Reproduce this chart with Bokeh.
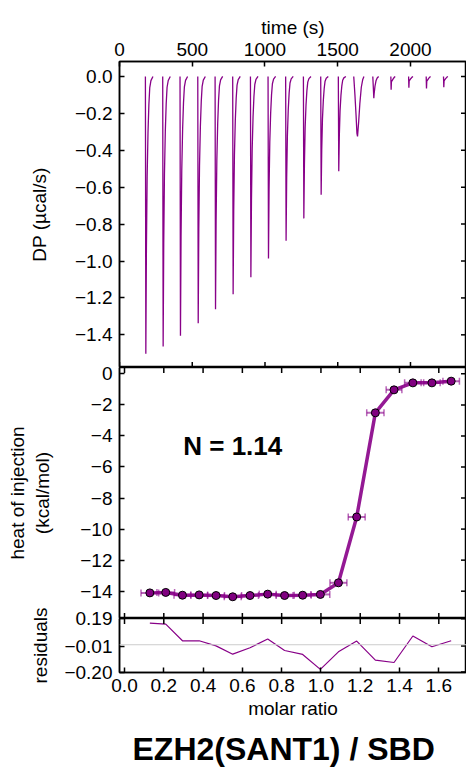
import math
from bokeh.plotting import figure
from bokeh.layouts import column
from bokeh.models import (LinearAxis, FixedTicker, Range1d, ColumnDataSource,
                          Whisker, TeeHead, Span, Label, Title)
from bokeh.embed import file_html
from bokeh.resources import INLINE

FONT = "Liberation Sans"
PURPLE = "#880088"
FS = "19px"

# ---------------- data ----------------
time_ticks = [0, 500, 1000, 1500, 2000]
dp_ticks = [0.0, -0.2, -0.4, -0.6, -0.8, -1.0, -1.2, -1.4]
dp_tick_labels = ["0.0", "\u22120.2", "\u22120.4", "\u22120.6", "\u22120.8",
                  "\u22121.0", "\u22121.2", "\u22121.4"]

# injection start times (s), peak depths (ucal/s), peak shape kind
inj_start = [178, 297, 416, 538, 657, 778, 900, 1021, 1142, 1264, 1383, 1504,
             1610, 1741, 1865, 1987, 2108, 2227]
peak_depth = [-1.503, -1.463, -1.405, -1.337, -1.261, -1.180, -1.088, -0.986,
              -0.890, -0.769, -0.641, -0.514, -0.325, -0.118, -0.072, -0.061,
              -0.065, -0.058]
peak_kind = ["s"] * 12 + ["V", "v", "r", "r", "r", "r"]

# peak shapes: time offsets (s) and fraction of depth
shape_dt = {
    "s": [0, 3, 7, 12, 18, 24, 30, 38, 52],
    "V": [0, 8, 16, 22, 26, 34, 42, 52, 62, 70],
    "v": [0, 7, 9, 15, 22, 30, 40],
    "r": [0, 2, 4, 8, 16, 24, 30],
}
shape_frac = {
    "s": [0, 1.0, 0.62, 0.36, 0.2, 0.1, 0.04, 0.015, 0],
    "V": [0, 0.3, 0.65, 0.95, 1.0, 0.75, 0.45, 0.18, 0.05, 0],
    "v": [0, 1.0, 0.8, 0.45, 0.2, 0.07, 0],
    "r": [0, 1.0, 0.4, 0.33, 0.18, 0.06, 0],
}

molar = [0.129, 0.210, 0.295, 0.380, 0.466, 0.551, 0.639, 0.729, 0.815,
         0.907, 0.997, 1.089, 1.182, 1.277, 1.372, 1.468, 1.565, 1.663]
heat = [-14.11, -14.08, -14.26, -14.24, -14.28, -14.36, -14.28, -14.19, -14.28,
        -14.26, -14.21, -13.46, -9.22, -2.51, -1.03, -0.58, -0.58, -0.47]
heat_xerr = [0.045, 0.045, 0.043, 0.043, 0.043, 0.043, 0.043, 0.043, 0.043,
             0.043, 0.048, 0.043, 0.043, 0.044, 0.040, 0.042, 0.042, 0.042]
resid = [0.158, 0.151, 0.029, 0.029, -0.008, -0.069, -0.022, 0.042, -0.042,
         -0.071, -0.180, -0.052, 0.027, -0.113, -0.130, 0.064, -0.015, 0.029]

molar_ticks = [0.0, 0.2, 0.4, 0.6, 0.8, 1.0, 1.2, 1.4, 1.6]
molar_tick_labels = ["0.0", "0.2", "0.4", "0.6", "0.8", "1.0", "1.2", "1.4", "1.6"]
heat_ticks = [0, -2, -4, -6, -8, -10, -12, -14]
heat_tick_labels = ["0", "\u22122", "\u22124", "\u22126", "\u22128",
                    "\u221210", "\u221212", "\u221214"]
resid_ticks = [0.19, -0.01, -0.20]
resid_tick_labels = ["0.19", "\u22120.01", "\u22120.20"]


def style_axis(ax, ticks, labels):
    ax.ticker = FixedTicker(ticks=ticks)
    ax.minor_tick_line_color = None
    ax.major_tick_in = 5
    ax.major_tick_out = 0
    ax.major_tick_line_width = 1.5
    ax.major_tick_line_color = "black"
    ax.axis_line_color = "black"
    ax.axis_line_width = 1.5
    ax.major_label_text_font = FONT
    ax.major_label_text_font_size = FS
    ax.major_label_text_color = "black"
    ax.axis_label_text_font = FONT
    ax.axis_label_text_font_style = "normal"
    ax.axis_label_text_font_size = FS
    ax.axis_label_text_color = "black"
    ax.major_label_overrides = {t: l for t, l in zip(ticks, labels)}


def inner_ticks(p, ticks, edge_value, vertical):
    """Unlabelled inward ticks on a frame edge (half of each dash is clipped)."""
    if vertical:
        p.scatter(ticks, [edge_value] * len(ticks), marker="dash", size=11,
                  angle=math.pi / 2, line_color="black", line_width=1.5)
    else:
        p.scatter([edge_value] * len(ticks), ticks, marker="dash", size=11,
                  line_color="black", line_width=1.5)


def base_fig(**kw):
    p = figure(output_backend="svg", toolbar_location=None,
               x_axis_location=None, y_axis_location=None,
               min_border_left=119, min_border_right=0, **kw)
    p.grid.visible = False
    p.outline_line_color = "black"
    p.outline_line_width = 1.5
    p.background_fill_color = "white"
    return p


# ---------------- top panel: thermogram ----------------
t_rng = Range1d(0, 2385)
dp_rng = Range1d(-1.577, 0.081)
p1 = base_fig(width=466, height=367, x_range=t_rng, y_range=dp_rng,
              min_border_top=61, min_border_bottom=0)
p1.border_fill_color = "white"
xs, ys = [], []
for t0, d, k in zip(inj_start, peak_depth, peak_kind):
    xs.append([t0 + dt for dt in shape_dt[k]])
    ys.append([d * f for f in shape_frac[k]])
p1.multi_line(xs, ys, line_color=PURPLE, line_width=1.3)

ax = LinearAxis(axis_label="time (s)")
style_axis(ax, time_ticks, [str(t) for t in time_ticks])
ax.major_label_standoff = 6
ax.axis_label_standoff = 2
p1.add_layout(ax, "above")
ax = LinearAxis(axis_label="DP (\u00b5cal/s)")
style_axis(ax, dp_ticks, dp_tick_labels)
ax.major_label_standoff = 7
ax.axis_label_standoff = 22
p1.add_layout(ax, "left")
inner_ticks(p1, time_ticks, dp_rng.start, True)
inner_ticks(p1, dp_ticks, t_rng.end, False)

# ---------------- middle panel: integrated heats ----------------
m_rng = Range1d(-0.0255, 1.741)
h_rng = Range1d(-15.76, 0.41)
OV2 = 10
p2 = base_fig(width=466, height=251 + OV2, x_range=m_rng, y_range=h_rng,
              min_border_top=OV2, min_border_bottom=0)
p2.border_fill_color = None
p2.margin = (-OV2, 0, 0, 0)
src = ColumnDataSource(dict(
    x=molar, y=heat,
    lo=[m - e for m, e in zip(molar, heat_xerr)],
    hi=[m + e for m, e in zip(molar, heat_xerr)],
))
p2.line("x", "y", source=src, line_color=PURPLE, line_width=3.5, line_alpha=0.9)
wh = Whisker(source=src, base="y", lower="lo", upper="hi", dimension="width",
             line_color=PURPLE, line_alpha=0.6, line_width=2,
             upper_head=TeeHead(size=7, line_color=PURPLE, line_alpha=0.6, line_width=1.5),
             lower_head=TeeHead(size=7, line_color=PURPLE, line_alpha=0.6, line_width=1.5))
p2.add_layout(wh)
p2.scatter("x", "y", source=src, size=8, fill_color="#800080",
           line_color="black", line_width=1)
p2.add_layout(Label(x=0.299, y=-4.67, text="N = 1.14", text_font=FONT,
                    text_font_size="26px", text_font_style="bold",
                    text_color="black", text_baseline="alphabetic"))

ax = LinearAxis(axis_label="heat of injection\n(kcal/mol)")
style_axis(ax, heat_ticks, heat_tick_labels)
ax.major_label_standoff = 7
ax.axis_label_standoff = 24
p2.add_layout(ax, "left")
inner_ticks(p2, molar_ticks, h_rng.end, True)
inner_ticks(p2, molar_ticks, h_rng.start, True)
inner_ticks(p2, heat_ticks, m_rng.end, False)

# ---------------- bottom panel: residuals ----------------
r_rng = Range1d(-0.203, 0.192)
OV3 = 12
p3 = base_fig(width=466, height=157 + OV3, x_range=Range1d(m_rng.start, m_rng.end),
              y_range=r_rng, min_border_top=OV3, min_border_bottom=103)
p3.border_fill_color = None
p3.margin = (-OV3, 0, 0, 0)
p3.add_layout(Span(location=0, dimension="width", line_color="#cccccc",
                   line_width=1))
p3.line(molar, resid, line_color=PURPLE, line_width=1.2)

ax = LinearAxis(axis_label="molar ratio")
style_axis(ax, molar_ticks, molar_tick_labels)
ax.major_label_standoff = 6
ax.axis_label_standoff = 3
p3.add_layout(ax, "below")
ax = LinearAxis(axis_label="residuals")
style_axis(ax, resid_ticks, resid_tick_labels)
ax.major_label_standoff = 7
ax.axis_label_standoff = 10
p3.add_layout(ax, "left")
inner_ticks(p3, molar_ticks, r_rng.end, True)
inner_ticks(p3, resid_ticks, p3.x_range.end, False)
p3.add_layout(Title(text="EZH2(SANT1) / SBD", align="left", offset=13,
                    text_font=FONT, text_font_size="32px",
                    text_font_style="bold", text_color="black", standoff=14),
              "below")

layout = column(p1, p2, p3, spacing=0)
open("out.html", "w").write(file_html(layout, INLINE))
